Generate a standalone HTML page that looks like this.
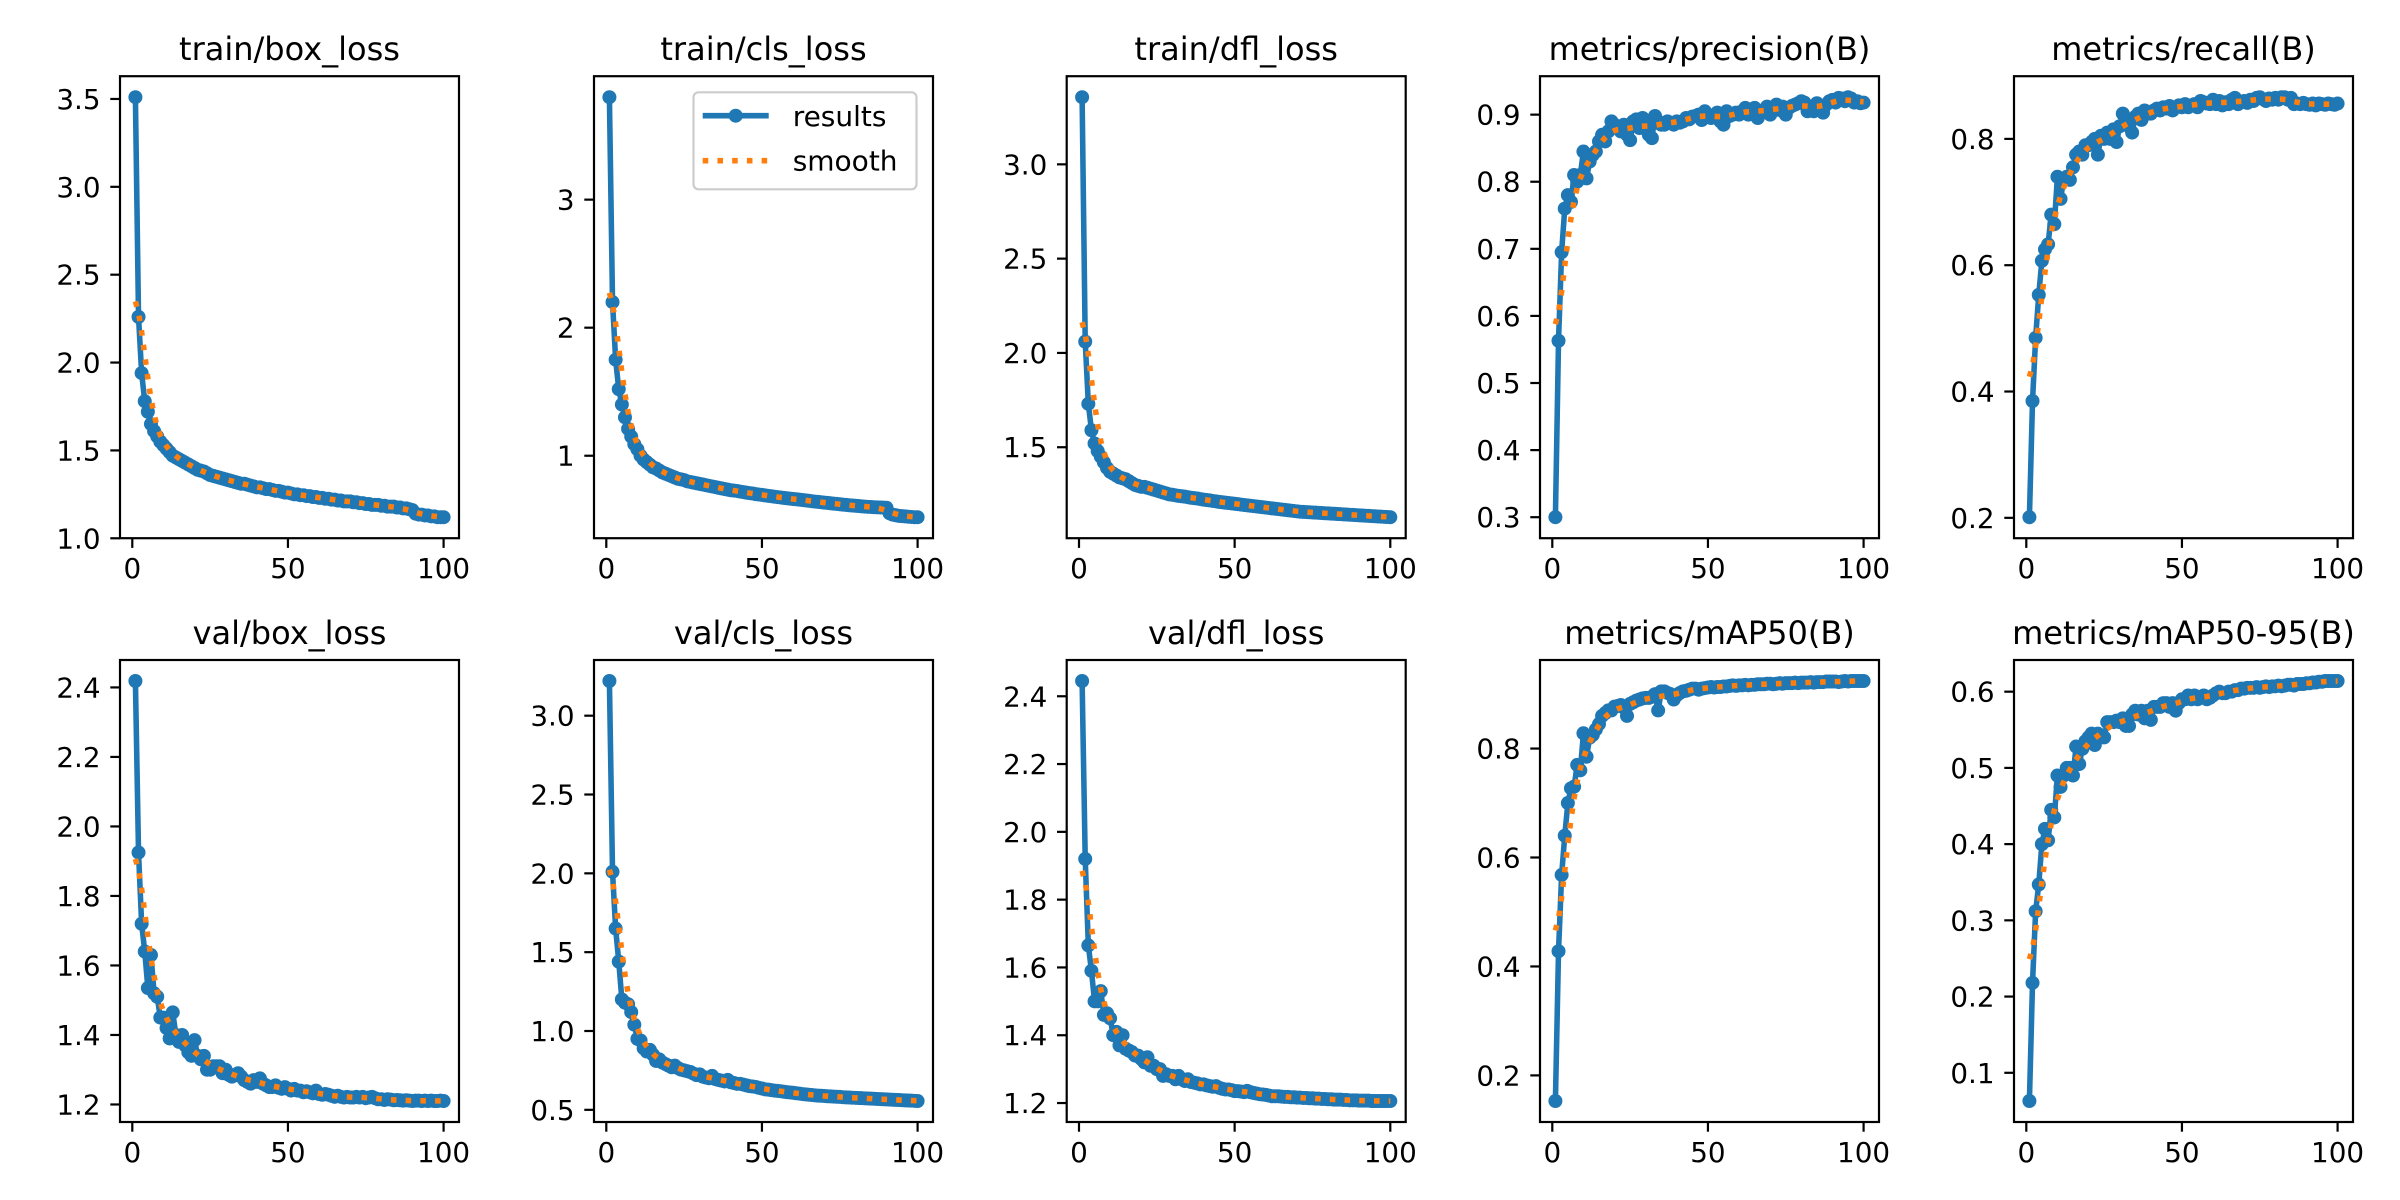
<!DOCTYPE html>
<html>
<head>
<meta charset="utf-8">
<style>
html,body{margin:0;padding:0;background:#fff;}
svg{display:block;}
text{font-family:"DejaVu Sans","Liberation Sans",sans-serif;fill:#000;}
</style>
</head>
<body>
<svg id="fig" width="2400" height="1200" viewBox="0 0 2400 1200" xmlns="http://www.w3.org/2000/svg">
<rect x="0" y="0" width="2400" height="1200" fill="#fff"/>
</svg>
<script>
const epochs = Array.from({length:100},(_, i)=>i+1);
const titles = ["train/box_loss","train/cls_loss","train/dfl_loss","metrics/precision(B)","metrics/recall(B)","val/box_loss","val/cls_loss","val/dfl_loss","metrics/mAP50(B)","metrics/mAP50-95(B)"];
const trainBox = [3.51,2.26,1.94,1.78,1.72,1.65,1.61,1.58,1.55,1.53,
1.51,1.49,1.47,1.46,1.45,1.44,1.43,1.42,1.41,1.40,
1.39,1.385,1.38,1.37,1.36,1.355,1.35,1.345,1.34,1.335,
1.33,1.325,1.32,1.315,1.31,1.31,1.305,1.30,1.295,1.29,
1.29,1.285,1.28,1.28,1.275,1.27,1.27,1.265,1.26,1.26,
1.255,1.25,1.25,1.245,1.245,1.24,1.24,1.235,1.235,1.23,
1.23,1.225,1.225,1.22,1.22,1.215,1.215,1.21,1.21,1.21,
1.205,1.205,1.20,1.20,1.195,1.195,1.19,1.19,1.19,1.185,
1.185,1.18,1.18,1.18,1.175,1.175,1.17,1.17,1.165,1.16,
1.14,1.135,1.135,1.13,1.13,1.125,1.125,1.12,1.12,1.12];
const trainCls = [3.80,2.20,1.75,1.52,1.40,1.30,1.21,1.15,1.09,1.05,
1.00,0.97,0.95,0.93,0.91,0.90,0.885,0.87,0.86,0.85,
0.84,0.83,0.82,0.815,0.81,0.80,0.795,0.79,0.785,0.78,
0.775,0.77,0.765,0.76,0.755,0.75,0.745,0.74,0.735,0.73,
0.728,0.725,0.72,0.716,0.712,0.708,0.705,0.70,0.697,0.694,
0.69,0.687,0.684,0.68,0.677,0.674,0.671,0.668,0.665,0.662,
0.66,0.657,0.654,0.651,0.648,0.645,0.642,0.64,0.637,0.634,
0.632,0.629,0.626,0.624,0.621,0.618,0.616,0.613,0.611,0.609,
0.607,0.605,0.603,0.601,0.60,0.598,0.597,0.596,0.595,0.594,
0.55,0.54,0.535,0.53,0.528,0.526,0.524,0.522,0.52,0.52];
const trainDfl = [3.356,2.06,1.73,1.59,1.52,1.48,1.45,1.42,1.39,1.37,
1.36,1.35,1.34,1.335,1.33,1.32,1.31,1.30,1.295,1.29,
1.29,1.285,1.28,1.275,1.27,1.265,1.26,1.255,1.25,1.248,
1.245,1.242,1.24,1.238,1.235,1.232,1.23,1.228,1.225,1.222,
1.22,1.218,1.215,1.213,1.21,1.208,1.206,1.204,1.202,1.20,
1.198,1.196,1.194,1.192,1.19,1.188,1.186,1.184,1.182,1.18,
1.178,1.176,1.174,1.172,1.17,1.168,1.166,1.164,1.162,1.16,
1.158,1.157,1.156,1.155,1.154,1.153,1.152,1.151,1.15,1.149,
1.148,1.147,1.146,1.145,1.144,1.143,1.142,1.141,1.14,1.139,
1.138,1.137,1.136,1.135,1.134,1.133,1.132,1.131,1.13,1.129];
const precision = [0.30,0.563,0.695,0.76,0.78,0.77,0.81,0.80,0.81,0.845,
0.805,0.83,0.84,0.845,0.86,0.87,0.86,0.875,0.89,0.885,
0.88,0.875,0.885,0.87,0.862,0.89,0.893,0.88,0.895,0.885,
0.87,0.865,0.898,0.89,0.885,0.885,0.89,0.888,0.885,0.89,
0.888,0.89,0.895,0.893,0.897,0.898,0.90,0.892,0.905,0.90,
0.895,0.898,0.903,0.89,0.885,0.905,0.898,0.90,0.903,0.90,
0.905,0.91,0.90,0.908,0.91,0.895,0.905,0.907,0.912,0.90,
0.91,0.915,0.907,0.912,0.90,0.91,0.913,0.915,0.917,0.92,
0.918,0.905,0.91,0.905,0.917,0.913,0.903,0.915,0.92,0.922,
0.918,0.925,0.924,0.92,0.926,0.924,0.918,0.92,0.917,0.918];
const recall = [0.201,0.385,0.485,0.553,0.607,0.625,0.633,0.68,0.665,0.74,
0.705,0.735,0.74,0.735,0.755,0.775,0.78,0.775,0.79,0.79,
0.795,0.80,0.775,0.805,0.80,0.81,0.80,0.815,0.795,0.82,
0.84,0.83,0.82,0.81,0.835,0.84,0.83,0.845,0.84,0.84,
0.845,0.848,0.845,0.85,0.848,0.852,0.845,0.85,0.853,0.85,
0.855,0.85,0.853,0.855,0.85,0.86,0.858,0.856,0.855,0.862,
0.855,0.86,0.853,0.858,0.855,0.862,0.865,0.855,0.858,0.86,
0.857,0.862,0.86,0.865,0.866,0.863,0.86,0.864,0.862,0.865,
0.862,0.866,0.866,0.862,0.865,0.855,0.856,0.855,0.857,0.855,
0.854,0.856,0.853,0.856,0.855,0.854,0.856,0.855,0.854,0.856];
const valBox = [2.4185,1.925,1.72,1.64,1.535,1.63,1.52,1.51,1.45,1.45,
1.42,1.39,1.465,1.40,1.38,1.40,1.37,1.35,1.34,1.385,
1.34,1.33,1.34,1.30,1.30,1.31,1.31,1.31,1.29,1.30,
1.285,1.28,1.285,1.29,1.28,1.27,1.265,1.26,1.27,1.265,
1.275,1.26,1.255,1.25,1.25,1.255,1.248,1.245,1.25,1.245,
1.24,1.245,1.24,1.24,1.235,1.238,1.235,1.232,1.24,1.23,
1.228,1.23,1.228,1.225,1.222,1.225,1.222,1.22,1.222,1.22,
1.22,1.222,1.22,1.222,1.218,1.22,1.222,1.218,1.215,1.215,
1.213,1.215,1.214,1.212,1.213,1.212,1.211,1.212,1.211,1.21,
1.211,1.211,1.21,1.211,1.21,1.211,1.21,1.21,1.211,1.21];
const valCls = [3.22,2.01,1.65,1.44,1.20,1.18,1.17,1.12,1.04,0.95,
0.94,0.89,0.87,0.88,0.85,0.81,0.82,0.80,0.79,0.78,
0.77,0.78,0.765,0.755,0.75,0.745,0.74,0.73,0.72,0.725,
0.71,0.705,0.70,0.715,0.695,0.69,0.685,0.68,0.69,0.675,
0.67,0.665,0.665,0.66,0.655,0.65,0.648,0.645,0.64,0.635,
0.63,0.628,0.625,0.622,0.62,0.618,0.615,0.612,0.61,0.608,
0.605,0.603,0.60,0.598,0.596,0.594,0.592,0.59,0.589,0.588,
0.586,0.585,0.584,0.583,0.582,0.58,0.579,0.578,0.577,0.576,
0.575,0.574,0.573,0.572,0.571,0.57,0.569,0.568,0.567,0.566,
0.565,0.564,0.563,0.562,0.561,0.56,0.559,0.558,0.557,0.556];
const valDfl = [2.445,1.92,1.665,1.59,1.50,1.50,1.53,1.46,1.465,1.45,
1.40,1.41,1.37,1.40,1.36,1.355,1.35,1.34,1.34,1.33,
1.32,1.335,1.31,1.31,1.30,1.30,1.28,1.285,1.28,1.28,
1.27,1.28,1.27,1.265,1.27,1.262,1.26,1.258,1.255,1.255,
1.252,1.25,1.248,1.25,1.245,1.242,1.24,1.24,1.238,1.235,
1.235,1.234,1.232,1.236,1.232,1.23,1.228,1.226,1.225,1.224,
1.222,1.22,1.22,1.22,1.219,1.218,1.218,1.217,1.217,1.216,
1.216,1.215,1.215,1.214,1.214,1.213,1.213,1.212,1.212,1.211,
1.211,1.21,1.21,1.21,1.209,1.209,1.208,1.208,1.208,1.207,
1.207,1.207,1.207,1.206,1.206,1.206,1.206,1.206,1.206,1.206];
const map50 = [0.153,0.428,0.568,0.64,0.70,0.727,0.73,0.77,0.76,0.828,
0.785,0.82,0.825,0.835,0.845,0.86,0.865,0.87,0.87,0.877,
0.878,0.88,0.875,0.86,0.882,0.885,0.888,0.89,0.892,0.893,
0.893,0.895,0.90,0.87,0.905,0.905,0.902,0.90,0.89,0.898,
0.902,0.905,0.906,0.908,0.91,0.91,0.908,0.91,0.911,0.912,
0.913,0.912,0.913,0.913,0.914,0.914,0.915,0.916,0.915,0.916,
0.916,0.917,0.916,0.917,0.917,0.918,0.918,0.918,0.919,0.919,
0.918,0.919,0.92,0.919,0.92,0.92,0.92,0.921,0.92,0.921,
0.921,0.921,0.922,0.921,0.922,0.922,0.922,0.923,0.923,0.923,
0.923,0.922,0.923,0.924,0.923,0.924,0.924,0.924,0.924,0.924];
const map5095 = [0.063,0.218,0.312,0.347,0.40,0.42,0.405,0.445,0.435,0.49,
0.475,0.49,0.50,0.50,0.49,0.528,0.505,0.525,0.535,0.54,
0.545,0.53,0.545,0.54,0.54,0.56,0.56,0.56,0.562,0.56,
0.565,0.555,0.555,0.57,0.575,0.57,0.575,0.565,0.575,0.563,
0.58,0.58,0.58,0.585,0.585,0.58,0.585,0.575,0.585,0.59,
0.59,0.595,0.59,0.595,0.59,0.592,0.595,0.59,0.592,0.595,
0.598,0.60,0.598,0.598,0.60,0.60,0.602,0.602,0.604,0.604,
0.605,0.605,0.605,0.606,0.605,0.606,0.607,0.606,0.607,0.607,
0.608,0.607,0.608,0.609,0.609,0.608,0.61,0.61,0.61,0.611,
0.611,0.612,0.612,0.613,0.613,0.614,0.614,0.614,0.614,0.614];
const xTicks = [0,50,100];
const yTicksBox = ["1.0","1.5","2.0","2.5","3.0","3.5"];
const yTicksCls = ["1","2","3"];
const yTicksDfl = ["1.5","2.0","2.5","3.0"];
const yTicksPrec = ["0.3","0.4","0.5","0.6","0.7","0.8","0.9"];
const yTicksRec = ["0.2","0.4","0.6","0.8"];
const yTicksVBox = ["1.2","1.4","1.6","1.8","2.0","2.2","2.4"];
const yTicksVCls = ["0.5","1.0","1.5","2.0","2.5","3.0"];
const yTicksVDfl = ["1.2","1.4","1.6","1.8","2.0","2.2","2.4"];
const yTicksMap50 = ["0.2","0.4","0.6","0.8"];
const yTicksMap5095 = ["0.1","0.2","0.3","0.4","0.5","0.6"];

const seriesList = [trainBox,trainCls,trainDfl,precision,recall,valBox,valCls,valDfl,map50,map5095];
const tickList = [yTicksBox,yTicksCls,yTicksDfl,yTicksPrec,yTicksRec,yTicksVBox,yTicksVCls,yTicksVDfl,yTicksMap50,yTicksMap5095];
const slugs = ["train-box-loss","train-cls-loss","train-dfl-loss","precision","recall","val-box-loss","val-cls-loss","val-dfl-loss","map50","map50-95"];

const NS = "http://www.w3.org/2000/svg";
const svg = document.getElementById('fig');
function mk(tag, attrs, parent){
  const e = document.createElementNS(NS, tag);
  for (const k in attrs) e.setAttribute(k, attrs[k]);
  (parent||svg).appendChild(e);
  return e;
}
function gauss(y, sigma){
  const r = Math.round(4*sigma);
  const w = [];
  let s = 0;
  for (let k=-r;k<=r;k++){ const v=Math.exp(-0.5*k*k/(sigma*sigma)); w.push(v); s+=v; }
  const n = y.length;
  const idx = i => { let j=i; while(j<0||j>=n){ if(j<0) j=-j-1; if(j>=n) j=2*n-j-1; } return j; };
  return y.map((_,i)=>{ let a=0; for(let k=-r;k<=r;k++) a+=w[k+r]*y[idx(i+k)]; return a/s; });
}

const colLeft = [120,594,1066.7,1540,2014];
const rowTop = [76.2,660];
const AW = 339, AH = 462;
const BLUE = "#1f77b4", ORANGE = "#ff7f0e";

seriesList.forEach((ys, si)=>{
  const L = colLeft[si%5], T = rowTop[Math.floor(si/5)];
  const smooth = gauss(ys, 3);
  const all = ys.concat(smooth);
  const mn = Math.min(...all), mx = Math.max(...all);
  const pad = 0.05*(mx-mn);
  const y0 = mn-pad, y1 = mx+pad;
  const x0 = 1-0.05*99, x1 = 100+0.05*99;
  const sx = v => L + (v-x0)/(x1-x0)*AW;
  const sy = v => T + AH - (v-y0)/(y1-y0)*AH;

  const g = mk('g', {});
  
  

  const title = mk('text', {x: L+AW/2, y: T-16, 'font-size': 32, 'text-anchor':'middle'}, g);
  
  
  title.textContent = titles[si];

  xTicks.forEach(t=>{
    const x = sx(t);
    const tk = mk('line', {x1:x, x2:x, y1:T+AH, y2:T+AH+9.7, stroke:'#000', 'stroke-width':2.2}, g);
    
    
    const lb = mk('text', {x:x, y:T+AH+40, 'font-size':27.8, 'text-anchor':'middle'}, g);
    
    
    lb.textContent = t;
  });
  tickList[si].forEach(lab=>{
    const v = parseFloat(lab);
    if (v < y0-0.003*(y1-y0) || v > y1+0.003*(y1-y0)) return;
    const y = sy(v);
    const tk = mk('line', {x1:L-9.7, x2:L, y1:y, y2:y, stroke:'#000', 'stroke-width':2.2}, g);
    
    
    const lb = mk('text', {x:L-19.4, y:y+10, 'font-size':27.8, 'text-anchor':'end'}, g);
    
    
    lb.textContent = lab;
  });

  const clip = mk('clipPath', {id:'clip'+si}, g);
  mk('rect', {x:L, y:T, width:AW, height:AH}, clip);
  const plot = mk('g', {'clip-path':'url(#clip'+si+')'}, g);

  const pts = ys.map((v,i)=>sx(epochs[i]).toFixed(2)+','+sy(v).toFixed(2)).join(' ');
  const line = mk('polyline', {points:pts, fill:'none', stroke:BLUE, 'stroke-width':5.56, 'stroke-linejoin':'round', 'stroke-linecap':'butt'}, plot);
  
  
  ys.forEach((v,i)=>{
    const c = mk('circle', {cx:sx(epochs[i]), cy:sy(v), r:7, fill:BLUE}, plot);
    
    
  });
  const spts = smooth.map((v,i)=>sx(epochs[i]).toFixed(2)+','+sy(v).toFixed(2)).join(' ');
  const sl = mk('polyline', {points:spts, fill:'none', stroke:ORANGE, 'stroke-width':5.56, 'stroke-dasharray':'5.56 9.17'}, plot);
  
  

  const frame = mk('rect', {x:L, y:T, width:AW, height:AH, fill:'none', stroke:'#000', 'stroke-width':2.2}, g);
  
  

  if (si === 1){
    const lg = mk('g', {}, g);
    
    
    mk('rect', {x:693.5, y:92.3, width:223, height:97, rx:5, fill:'#fff', 'fill-opacity':0.8, stroke:'#cccccc', 'stroke-width':2.2}, lg);
    const e1 = mk('line', {x1:702.7, x2:768.7, y1:115.7, y2:115.7, stroke:BLUE, 'stroke-width':5.56}, lg);
    
    
    mk('circle', {cx:735.7, cy:115.7, r:7, fill:BLUE}, lg);
    const t1 = mk('text', {x:792.7, y:126, 'font-size':28}, lg);
    
    
    t1.textContent = 'results';
    const e2 = mk('line', {x1:702.7, x2:768.7, y1:160.7, y2:160.7, stroke:ORANGE, 'stroke-width':5.56, 'stroke-dasharray':'5.56 9.17'}, lg);
    
    
    const t2 = mk('text', {x:792.7, y:170.5, 'font-size':28}, lg);
    
    
    t2.textContent = 'smooth';
  }
});
</script>
</body>
</html>
